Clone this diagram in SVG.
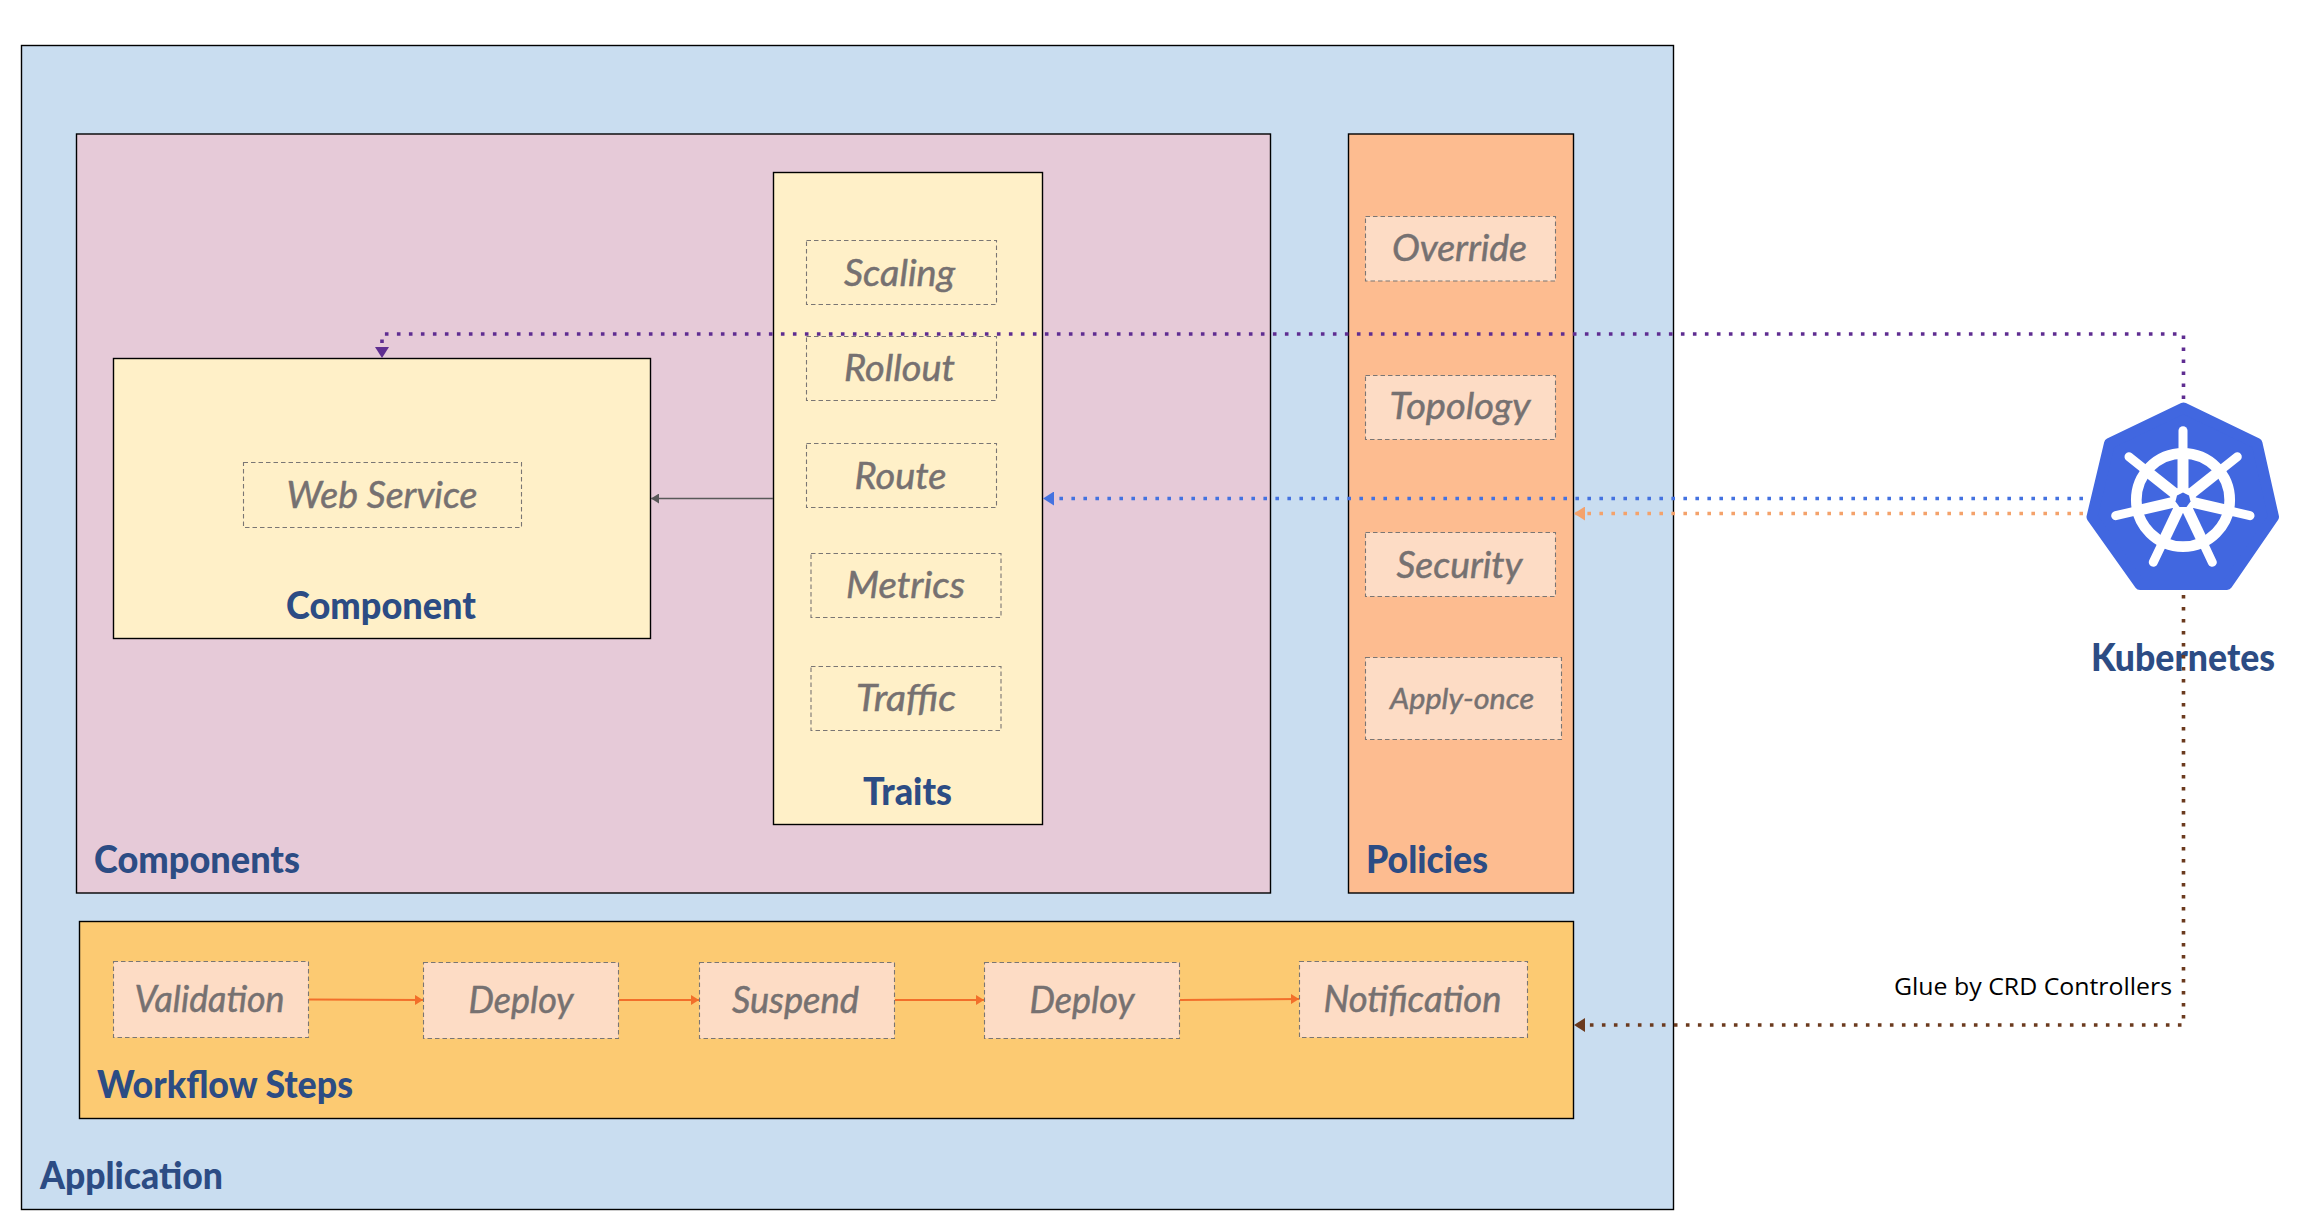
<svg xmlns="http://www.w3.org/2000/svg" width="2306" height="1218" viewBox="0 0 2306 1218">
<style>
.box{stroke:#000;stroke-width:1.4}
.step{stroke:#7a7674;stroke-width:1.1;stroke-dasharray:4.5 3}
.h{font-family:Lato,"Liberation Sans",sans-serif;font-weight:900;font-size:37px;fill:#2c4c84}
.i{font-family:Lato,"Liberation Sans",sans-serif;font-style:italic;font-size:37px;fill:#767171;stroke:#767171;stroke-width:.5}
.dot{stroke-width:3.6;stroke-dasharray:3.6 8.4;fill:none}
.flow{stroke:#f26f2a;stroke-width:1.8;fill:none}
</style>
<defs>
<marker id="mp" markerUnits="userSpaceOnUse" markerWidth="12" markerHeight="14" refX="11" refY="7" orient="auto"><path d="M0 0L11 7L0 14z" fill="#5f2d91"/></marker>
<marker id="mb" markerUnits="userSpaceOnUse" markerWidth="12" markerHeight="14" refX="11" refY="7" orient="auto"><path d="M0 0L11 7L0 14z" fill="#4472e0"/></marker>
<marker id="mo" markerUnits="userSpaceOnUse" markerWidth="12" markerHeight="14" refX="11" refY="7" orient="auto"><path d="M0 0L11 7L0 14z" fill="#f4a26b"/></marker>
<marker id="mr" markerUnits="userSpaceOnUse" markerWidth="12" markerHeight="14" refX="11" refY="7" orient="auto"><path d="M0 0L11 7L0 14z" fill="#6b3a1e"/></marker>
<marker id="mg" markerUnits="userSpaceOnUse" markerWidth="9" markerHeight="10" refX="8" refY="5" orient="auto"><path d="M0 0L8 5L0 10z" fill="#595959"/></marker>
<marker id="mf" markerUnits="userSpaceOnUse" markerWidth="9" markerHeight="10" refX="8" refY="5" orient="auto"><path d="M0 0L8 5L0 10z" fill="#f26f2a"/></marker>
</defs>
<rect width="2306" height="1218" fill="#fff"/>
<g id="application"><rect class="box" x="21.5" y="45.500" width="1652" height="1164" fill="#c9ddf0"/><text class="h" x="40" y="1189" textLength="183" lengthAdjust="spacingAndGlyphs">Application</text></g>
<g id="components"><rect class="box" x="76.500" y="134" width="1194" height="759" fill="#e6cad8"/><text class="h" x="94" y="873" textLength="206" lengthAdjust="spacingAndGlyphs">Components</text></g>
<g id="component"><rect class="box" x="113.500" y="358.500" width="537" height="280" fill="#fff0c8"/><text class="h" x="286" y="619" textLength="190" lengthAdjust="spacingAndGlyphs">Component</text></g>
<g id="web-service"><rect class="step" x="243.500" y="462.500" width="278" height="65" fill="none"/><text class="i" x="286.500" y="508" textLength="191" lengthAdjust="spacingAndGlyphs">Web Service</text></g>
<g id="traits"><rect class="box" x="773.500" y="172.500" width="269" height="652" fill="#fff0c8"/><text class="h" x="863" y="805" textLength="89" lengthAdjust="spacingAndGlyphs">Traits</text></g>
<g id="scaling"><rect class="step" x="806.500" y="240.500" width="190" height="64" fill="none"/><text class="i" x="844" y="286" textLength="111" lengthAdjust="spacingAndGlyphs">Scaling</text></g>
<g id="rollout"><rect class="step" x="806.500" y="336.500" width="190" height="64" fill="none"/><text class="i" x="844" y="381" textLength="111" lengthAdjust="spacingAndGlyphs">Rollout</text></g>
<g id="route"><rect class="step" x="806.500" y="443.500" width="190" height="64" fill="none"/><text class="i" x="854.500" y="489" textLength="92" lengthAdjust="spacingAndGlyphs">Route</text></g>
<g id="metrics"><rect class="step" x="811" y="553.500" width="190" height="64" fill="none"/><text class="i" x="846" y="598" textLength="119" lengthAdjust="spacingAndGlyphs">Metrics</text></g>
<g id="traffic"><rect class="step" x="811" y="666.500" width="190" height="64" fill="none"/><text class="i" x="856" y="711" textLength="100" lengthAdjust="spacingAndGlyphs">Traffic</text></g>
<g id="policies"><rect class="box" x="1348.500" y="134" width="225" height="759" fill="#fdbc90"/><text class="h" x="1366" y="873" textLength="122" lengthAdjust="spacingAndGlyphs">Policies</text></g>
<g id="override"><rect class="step" x="1365.500" y="216.500" width="190" height="64.500" fill="#fddcc5"/><text class="i" x="1392" y="261" textLength="135" lengthAdjust="spacingAndGlyphs">Override</text></g>
<g id="topology"><rect class="step" x="1365.500" y="375.500" width="190" height="64" fill="#fddcc5"/><text class="i" x="1389.500" y="419" textLength="141" lengthAdjust="spacingAndGlyphs">Topology</text></g>
<g id="security"><rect class="step" x="1365.500" y="532.500" width="190" height="64" fill="#fddcc5"/><text class="i" x="1396.500" y="578" textLength="126" lengthAdjust="spacingAndGlyphs">Security</text></g>
<g id="apply-once"><rect class="step" x="1365.500" y="657.500" width="196" height="82" fill="#fddcc5"/><text class="i" x="1390" y="709" textLength="144" lengthAdjust="spacingAndGlyphs" style="font-size:29px">Apply-once</text></g>
<g id="workflow"><rect class="box" x="79.500" y="921.500" width="1494" height="197" fill="#fcca72"/><text class="h" x="97" y="1098" textLength="256" lengthAdjust="spacingAndGlyphs">Workflow Steps</text></g>
<g id="validation"><rect class="step" x="113.500" y="961.500" width="195" height="76" fill="#fddcc5"/><text class="i" x="134.500" y="1012" textLength="150" lengthAdjust="spacingAndGlyphs">Validation</text></g>
<g id="deploy-1"><rect class="step" x="423.500" y="962.500" width="195" height="76" fill="#fddcc5"/><text class="i" x="468.500" y="1013" textLength="105" lengthAdjust="spacingAndGlyphs">Deploy</text></g>
<g id="suspend"><rect class="step" x="699.500" y="962.500" width="195" height="76" fill="#fddcc5"/><text class="i" x="732" y="1013" textLength="127" lengthAdjust="spacingAndGlyphs">Suspend</text></g>
<g id="deploy-2"><rect class="step" x="984.500" y="962.500" width="195" height="76" fill="#fddcc5"/><text class="i" x="1029.500" y="1013" textLength="105" lengthAdjust="spacingAndGlyphs">Deploy</text></g>
<g id="notification"><rect class="step" x="1299.500" y="961.500" width="228" height="76" fill="#fddcc5"/><text class="i" x="1323.500" y="1012" textLength="178" lengthAdjust="spacingAndGlyphs">Notification</text></g>
<g id="kubernetes">
<path d="M2183.500 408L2257 443.500L2273.500 517L2227 584.500H2140L2092 517L2109.500 443.500Z" fill="#4167e0" stroke="#4167e0" stroke-width="11" stroke-linejoin="round"/>
<g stroke="#fff" fill="none" stroke-linecap="round">
<circle cx="2183" cy="500" r="46.700" stroke-width="10.700"/>
<g stroke-width="9"><path d="M2183 500V430.700"/><path d="M2183 500L2237.300 456.700"/><path d="M2183 500L2129 456.700"/><path d="M2183 500L2250 515.700"/><path d="M2183 500L2115.700 515.700"/><path d="M2183 500L2212.300 562.300"/><path d="M2183 500L2153.300 562.300"/></g>
<g stroke-width="11" stroke-linecap="butt"><path d="M2183 500V456"/><path d="M2183 500L2217 473"/><path d="M2183 500L2149 473"/><path d="M2183 500L2226 510"/><path d="M2183 500L2140 510"/><path d="M2183 500L2202 540"/><path d="M2183 500L2164 540"/></g>
</g>
<circle cx="2183" cy="500" r="13" fill="#fff"/>
<path d="M2183 492.500L2189 495.500L2190.500 501.500L2186.500 507H2179.500L2175.500 501.500L2177 495.500Z" fill="#4167e0"/>
<text class="h" x="2091" y="671" textLength="184" lengthAdjust="spacingAndGlyphs">Kubernetes</text>
</g>
<text x="1894" y="995" font-family="'Open Sans','Noto Sans',sans-serif" font-size="24" fill="#000" textLength="278" lengthAdjust="spacingAndGlyphs">Glue by CRD Controllers</text>
<g id="connectors">
<path class="dot" stroke="#5f2d91" d="M2183.500 399V334H382V358" marker-end="url(#mp)"/>
<path class="dot" stroke="#4472e0" d="M2083 498.500H1043" marker-end="url(#mb)"/>
<path class="dot" stroke="#f4a26b" d="M2083 513.500H1574" marker-end="url(#mo)"/>
<path class="dot" stroke="#6b3a1e" d="M2183.500 595V1025H1574" marker-end="url(#mr)"/>
<path stroke="#595959" stroke-width="1.5" fill="none" d="M773 498.500H651" marker-end="url(#mg)"/>
<path class="flow" d="M309 999.500L423 1000" marker-end="url(#mf)"/>
<path class="flow" d="M619 1000H699" marker-end="url(#mf)"/>
<path class="flow" d="M895 1000H984" marker-end="url(#mf)"/>
<path class="flow" d="M1180 1000L1299 999" marker-end="url(#mf)"/>
</g>
</svg>
